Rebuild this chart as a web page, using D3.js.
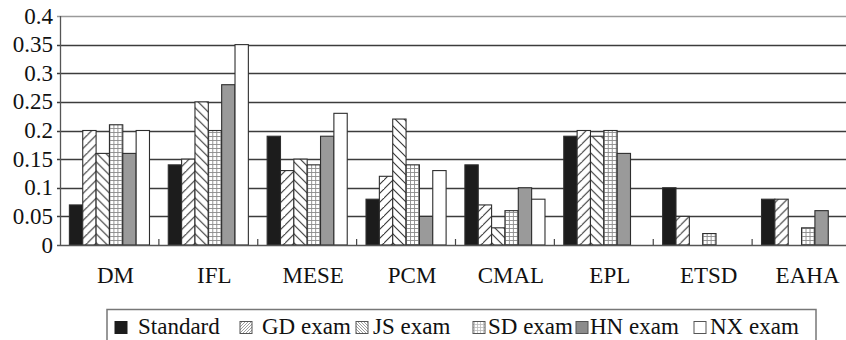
<!DOCTYPE html>
<html>
<head>
<meta charset="utf-8">
<script src="https://cdn.jsdelivr.net/npm/d3@7"></script>
<style>
  html, body { margin: 0; padding: 0; background: #fff; }
  svg { display: block; }
  svg text { font-family: "Liberation Serif", "Tinos", "Times New Roman", Times, "DejaVu Serif", serif; }
</style>
</head>
<body>
<svg id="chart" width="846" height="340"></svg>
<script>
// Categories along the x axis
const categories = ["DM", "IFL", "MESE", "PCM", "CMAL", "EPL", "ETSD", "EAHA"];

// Series names (legend order)
const seriesNames = ["Standard", "GD exam", "JS exam", "SD exam", "HN exam", "NX exam"];

// Series values, one per category
const standard = [0.07, 0.14, 0.19, 0.08, 0.14, 0.19, 0.10, 0.08];
const gdExam   = [0.20, 0.15, 0.13, 0.12, 0.07, 0.20, 0.05, 0.08];
const jsExam   = [0.16, 0.25, 0.15, 0.22, 0.03, 0.19, 0.00, 0.00];
const sdExam   = [0.21, 0.20, 0.14, 0.14, 0.06, 0.20, 0.02, 0.03];
const hnExam   = [0.16, 0.28, 0.19, 0.05, 0.10, 0.16, 0.00, 0.06];
const nxExam   = [0.20, 0.35, 0.23, 0.13, 0.08, 0.00, 0.00, 0.00];

// Y axis tick values and labels
const yTicks = [0, 0.05, 0.1, 0.15, 0.2, 0.25, 0.3, 0.35, 0.4];
const yTickLabels = ["0", "0.05", "0.1", "0.15", "0.2", "0.25", "0.3", "0.35", "0.4"];

const seriesValues = [standard, gdExam, jsExam, sdExam, hnExam, nxExam];

const svg = d3.select("#chart");
const FONT = 23;
const FAMILY = "'Liberation Serif', Tinos, 'Times New Roman', Times, 'DejaVu Serif', serif";

// Fill patterns for each series
const defs = svg.append("defs");

function hatch(id, dir, size, color, width) {
  const p = defs.append("pattern")
    .attr("id", id).attr("patternUnits", "userSpaceOnUse")
    .attr("width", size).attr("height", size);
  p.append("rect").attr("width", size).attr("height", size).attr("fill", "#fff");
  // main diagonal plus its neighbours so tile corners join cleanly
  const lines = dir === "up"
    ? [[-1, size + 1, size + 1, -1], [-1 - size, size + 1, 1, -1], [size - 1, size * 2 + 1, size * 2 + 1, size - 1]]
    : [[-1, -1, size + 1, size + 1], [-1 - size, -1, 1, size + 1], [size - 1, -1, size * 2 + 1, size + 1]];
  lines.forEach(l => p.append("line")
    .attr("x1", l[0]).attr("y1", l[1]).attr("x2", l[2]).attr("y2", l[3])
    .attr("stroke", color).attr("stroke-width", width));
}
hatch("pGD", "up", 9, "#333", 1.1);
hatch("pJS", "down", 9, "#333", 1.1);
hatch("pGDs", "up", 3, "#888", 0.8);
hatch("pJSs", "down", 3, "#888", 0.8);

function grid(id, size, color, width) {
  const p = defs.append("pattern")
    .attr("id", id).attr("patternUnits", "userSpaceOnUse")
    .attr("width", size).attr("height", size);
  p.append("rect").attr("width", size).attr("height", size).attr("fill", "#fff");
  p.append("line").attr("x1", 0).attr("y1", 0.5).attr("x2", size).attr("y2", 0.5)
    .attr("stroke", color).attr("stroke-width", width);
  p.append("line").attr("x1", 0.5).attr("y1", 0).attr("x2", 0.5).attr("y2", size)
    .attr("stroke", color).attr("stroke-width", width);
}
grid("pSD", 4, "#8a8a8a", 0.9);
grid("pSDs", 3, "#bbb", 0.8);

const fills = ["#1c1c1c", "url(#pGD)", "url(#pJS)", "url(#pSD)", "#9a9a9a", "#fff"];
const legendFills = ["#1c1c1c", "url(#pGDs)", "url(#pJSs)", "url(#pSDs)", "#8c8c8c", "#fff"];

// Scales
const plotLeft = 60, plotRight = 851, plotTop = 16, plotBottom = 245;
const y = d3.scaleLinear().domain([0, 0.4]).range([plotBottom, plotTop]);
const x0 = d3.scaleBand().domain(categories).range([plotLeft, plotRight])
  .paddingInner(0.19).paddingOuter(0.095);
const x1 = d3.scaleBand().domain(seriesNames).range([0, x0.bandwidth()]).padding(0);

// Horizontal gridlines
svg.append("g").selectAll("line").data(yTicks.filter(d => d > 0)).join("line")
  .attr("x1", plotLeft - 3).attr("x2", 846)
  .attr("y1", d => Math.round(y(d)) + 0.5).attr("y2", d => Math.round(y(d)) + 0.5)
  .attr("stroke", d => d === 0.4 ? "#9a9a9a" : "#3c3c3c")
  .attr("stroke-width", 1.4);

// Bars
const groups = svg.append("g").selectAll("g").data(categories).join("g")
  .attr("transform", d => `translate(${x0(d)},0)`);

groups.selectAll("rect")
  .data((c, ci) => seriesNames.map((s, si) => ({ s, si, v: seriesValues[si][ci] })))
  .join("rect")
  .filter(d => d.v > 0)
  .attr("x", d => x1(d.s))
  .attr("y", d => y(d.v))
  .attr("width", x1.bandwidth())
  .attr("height", d => y(0) - y(d.v))
  .attr("fill", d => fills[d.si])
  .attr("stroke", "#2e2e2e")
  .attr("stroke-width", 1.1);

// Axis lines
svg.append("line").attr("x1", plotLeft + 0.5).attr("x2", plotLeft + 0.5)
  .attr("y1", plotTop).attr("y2", plotBottom)
  .attr("stroke", "#555").attr("stroke-width", 1.3);
svg.append("line").attr("x1", plotLeft - 3).attr("x2", 846)
  .attr("y1", plotBottom + 0.5).attr("y2", plotBottom + 0.5)
  .attr("stroke", "#555").attr("stroke-width", 1.5);

// Category separator ticks on the x axis
const step = x0.step();
svg.append("g").selectAll("line").data(categories.slice(1)).join("line")
  .attr("x1", d => x0(d) - step * 0.095).attr("x2", d => x0(d) - step * 0.095)
  .attr("y1", plotBottom - 6).attr("y2", plotBottom)
  .attr("stroke", "#444").attr("stroke-width", 1.2);

// Y tick labels
svg.append("g").selectAll("text").data(yTicks).join("text")
  .attr("x", 53).attr("y", d => y(d))
  .attr("dy", "0.33em")
  .attr("text-anchor", "end")
  .attr("font-family", FAMILY)
  .attr("font-size", FONT).attr("fill", "#111")
  .text((d, i) => yTickLabels[i]);

// Category labels
svg.append("g").selectAll("text").data(categories).join("text")
  .attr("x", d => x0(d) + x0.bandwidth() / 2 + 6)
  .attr("y", 283)
  .attr("text-anchor", "middle")
  .attr("font-family", FAMILY)
  .attr("font-size", FONT).attr("fill", "#111")
  .text(d => d);

// Legend
const legendMarkX = [115, 240, 356, 473, 576, 694];
const legendTextX = [138, 262, 373, 488, 590, 710];
svg.append("rect").attr("x", 107).attr("y", 309.5).attr("width", 709).attr("height", 40)
  .attr("fill", "none").attr("stroke", "#777").attr("stroke-width", 1.5);
const leg = svg.append("g").selectAll("g").data(seriesNames).join("g");
leg.append("rect")
  .attr("x", (d, i) => legendMarkX[i]).attr("y", 321.5)
  .attr("width", 12).attr("height", 12)
  .attr("fill", (d, i) => legendFills[i])
  .attr("stroke", (d, i) => i === 0 ? "#1c1c1c" : "#555").attr("stroke-width", 1);
leg.append("text")
  .attr("x", (d, i) => legendTextX[i]).attr("y", 334)
  .attr("font-family", FAMILY)
  .attr("font-size", FONT).attr("fill", "#111")
  .text(d => d);
</script>
</body>
</html>
